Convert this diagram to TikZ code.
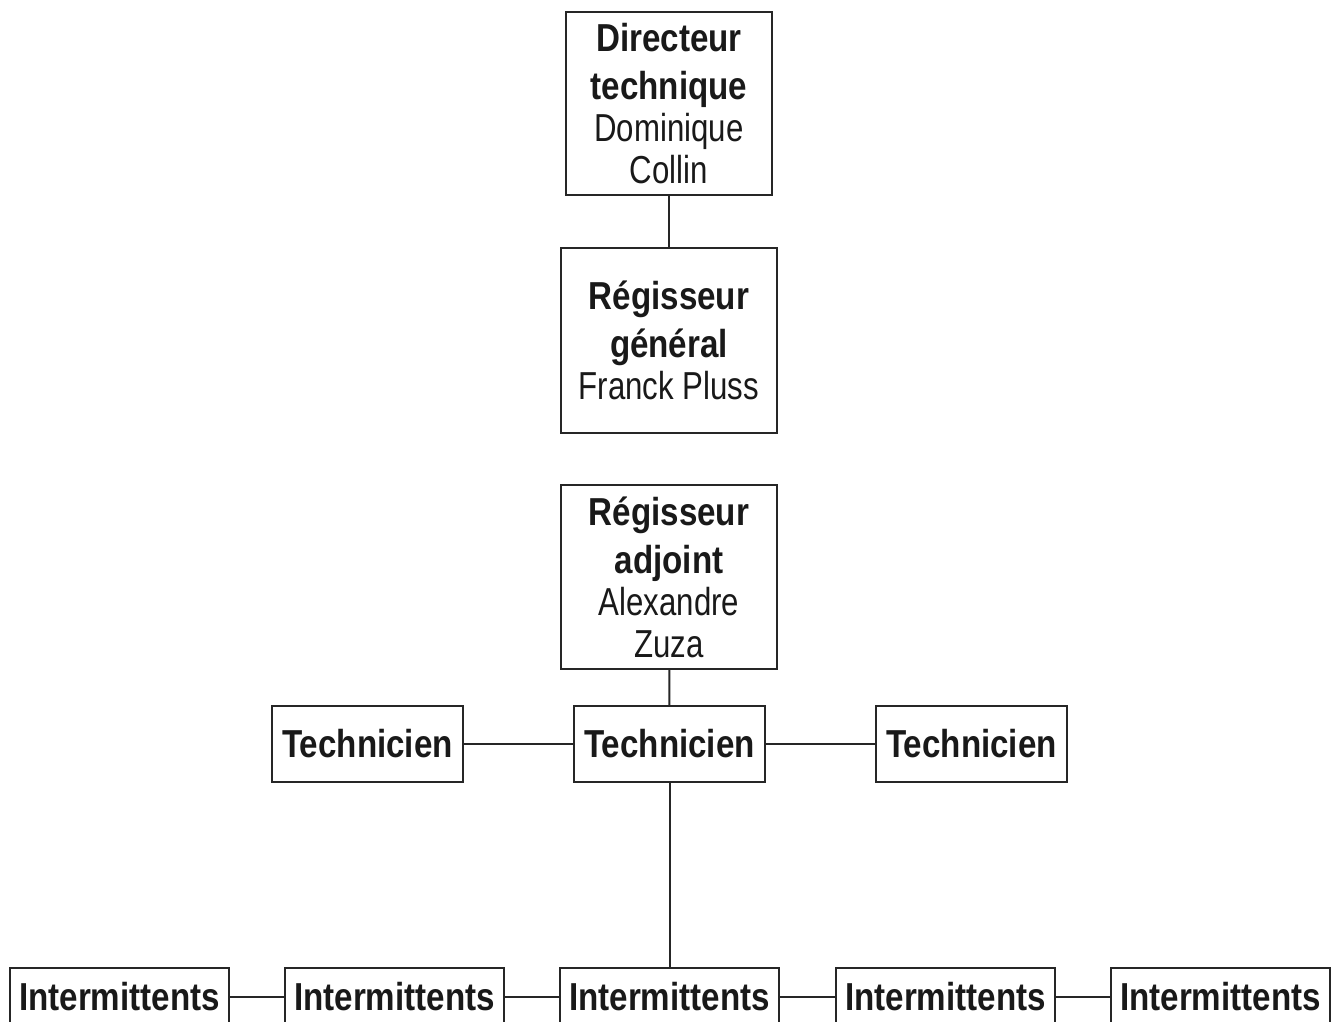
\documentclass[tikz,border=0pt]{standalone}
\usepackage{fontspec}
\setmainfont{Liberation Sans}[FakeStretch=0.8,BoldFeatures={FakeStretch=0.85}]
\begin{document}
\begin{tikzpicture}[x=1pt,y=-1pt,
  box/.style={draw=black!85,line width=1.3pt,inner sep=0pt,align=center,
    font=\fontsize{39}{42}\selectfont,text=black!90},
  link/.style={draw=black!85,line width=2pt}]
\useasboundingbox (0,0) rectangle (1332,1021);
\node[box,minimum width=206pt,minimum height=183pt] (dir) at (669,103.5)
  {\textbf{Directeur}\\[6pt]\textbf{technique}\\Dominique\\Collin};
\node[box,minimum width=216pt,minimum height=185pt] (rg) at (669,340.5)
  {\textbf{Régisseur}\\[6pt]\textbf{général}\\Franck Pluss};
\node[box,minimum width=216pt,minimum height=184pt] (ra) at (669,577)
  {\textbf{Régisseur}\\[6pt]\textbf{adjoint}\\Alexandre\\Zuza};
\node[box,minimum width=191pt,minimum height=76pt] (tL) at (367.5,744) {\textbf{Technicien}};
\node[box,minimum width=191pt,minimum height=76pt] (tC) at (669.5,744) {\textbf{Technicien}};
\node[box,minimum width=191pt,minimum height=76pt] (tR) at (971.5,744) {\textbf{Technicien}};
\foreach \i/\x in {1/119.5,2/394.5,3/669.5,4/945.5,5/1220.5}
  \node[box,minimum width=219pt,minimum height=58pt] (i\i) at (\x,997) {\textbf{Intermittents}};
\draw[link] (dir) -- (rg);
\draw[link] (ra) -- (tC);
\draw[link] (tC) -- (tL);
\draw[link] (tC) -- (tR);
\draw[link] (tC) -- (i3);
\draw[link] (i1) -- (i2);
\draw[link] (i2) -- (i3);
\draw[link] (i3) -- (i4);
\draw[link] (i4) -- (i5);
\end{tikzpicture}
\end{document}
